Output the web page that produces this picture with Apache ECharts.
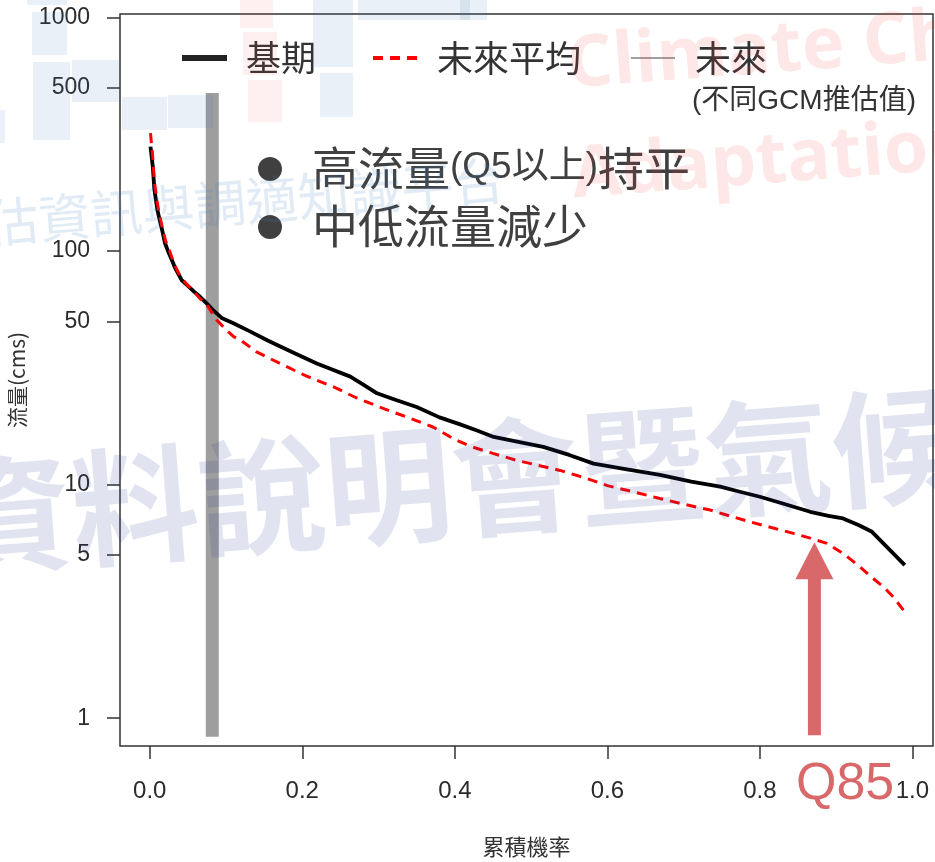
<!DOCTYPE html>
<html><head><meta charset="utf-8">
<script src="https://cdn.jsdelivr.net/npm/echarts@6/dist/echarts.min.js"></script>
<style>html,body{margin:0;padding:0;background:#fff}#c{width:935px;height:862px}</style>
</head><body><div id="c"></div>
<script>
// ---- data ----
const baseX = [0.001,0.004,0.006,0.010,0.013,0.017,0.020,0.025,0.029,0.033,0.036,0.042,0.049,0.058,0.066,0.075,0.083,0.095,0.109,0.130,0.154,0.167,0.190,0.219,0.240,0.263,0.280,0.298,0.320,0.350,0.380,0.407,0.430,0.451,0.480,0.516,0.550,0.582,0.620,0.669,0.710,0.748,0.775,0.800,0.830,0.866,0.890,0.909,0.930,0.947,0.990];
const baseY = [280,230,185,150,136,120,108,98,91.5,85,81.5,75,71.5,67,63.7,59.5,55.9,51.5,49.2,45.5,41.5,39.6,36.5,33.0,31.0,29.0,26.8,24.6,23.2,21.5,19.4,18.1,17.0,16.0,15.3,14.5,13.4,12.3,11.7,11.0,10.3,9.8,9.3,8.87,8.3,7.65,7.35,7.16,6.7,6.28,4.52];
const futX = [0.001,0.004,0.006,0.010,0.013,0.017,0.021,0.026,0.030,0.035,0.040,0.050,0.058,0.066,0.075,0.088,0.100,0.110,0.119,0.140,0.175,0.205,0.241,0.270,0.306,0.340,0.372,0.400,0.420,0.450,0.481,0.538,0.570,0.600,0.635,0.669,0.700,0.735,0.760,0.787,0.815,0.844,0.866,0.888,0.910,0.931,0.945,0.962,0.975,0.990];
const futY = [320,250,200,160,142,124,110,100,92,84,78,71,67,62.5,58.7,50.6,46,43.0,41.6,37,32.5,29.2,26.2,23.6,21.2,19.3,17.6,15.6,14.6,13.6,12.7,11.5,10.7,9.9,9.3,8.72,8.25,7.78,7.35,6.93,6.55,6.18,5.9,5.60,5.05,4.45,4.05,3.65,3.3,2.85];
const xTicks = [0, 0.2, 0.4, 0.6, 0.8, 1.0];
const yTicks = [1, 5, 10, 50, 100, 500, 1000];
const q5BarX = [0.082, 0.082];
const q5BarY = [475, 0.833];
const q85Arrow = [0.8715, 5.67, 0.846]; // x, tip value, tail value
const seriesNames = ['基期', '未來平均', '未來'];
const legendSub = '(不同GCM推估值)';
const notes = ['高流量', '(Q5以上)', '持平', '中低流量減少'];
const q85Label = 'Q85';
const xTitle = '累積機率';
const yTitle = '流量(cms)';

const zip = (a, b) => a.map((v, i) => [v, b[i]]);
const FONT = '"Liberation Sans","Noto Sans CJK TC",sans-serif';
const CJK = '"Noto Sans CJK TC","Liberation Sans",sans-serif';

const chart = echarts.init(document.getElementById('c'), null, {renderer: 'canvas'});

const wm = [];
// watermark blocks (logo)
const blueBlocks = [[32,12,35,43],[33,62,37,78],[72,60,48,42],[122,97,45,33],[168,95,45,33],[0,110,5,33],[27,0,40,5],[313,0,40,67],[320,73,33,44],[358,0,112,20],[460,0,27,20]];
const pinkBlocks = [[240,0,33,28],[243,32,34,43],[248,80,34,42]];
blueBlocks.forEach(b => wm.push({type:'rect', silent:true, z:100, shape:{x:b[0],y:b[1],width:b[2],height:b[3]}, style:{fill:'rgba(60,120,180,0.11)'}}));
pinkBlocks.forEach(b => wm.push({type:'rect', silent:true, z:100, shape:{x:b[0],y:b[1],width:b[2],height:b[3]}, style:{fill:'rgba(240,60,60,0.08)'}}));
wm.push({type:'text', silent:true, z:100, x:-65, y:228, rotation:0.085,
  style:{text:'推估資訊與調適知識平台', x:0, y:0, fontSize:52, fontFamily:CJK, fill:'rgba(70,130,190,0.16)', align:'left', verticalAlign:'middle'}});
wm.push({type:'text', silent:true, z:100, x:570, y:103, rotation:0.075,
  style:{text:'Climate Change', x:0, y:0, fontSize:72, fontWeight:'bold', fontFamily:'"Open Sans",sans-serif', fill:'rgba(240,60,60,0.12)', align:'left', verticalAlign:'bottom'}});
wm.push({type:'text', silent:true, z:100, x:575, y:213, rotation:0.075,
  style:{text:'Adaptation', x:0, y:0, fontSize:72, fontWeight:'bold', fontFamily:'"Open Sans",sans-serif', fill:'rgba(240,60,60,0.12)', align:'left', verticalAlign:'bottom'}});
wm.push({type:'text', silent:true, z:100, x:-55, y:520, rotation:0.0766,
  style:{text:'資料說明會暨氣候變遷', x:0, y:0, fontSize:127, fontWeight:'bold', fontFamily:CJK, fill:'rgba(44,66,150,0.14)', align:'left', verticalAlign:'middle'}});

const legendG = [
  {type:'line', z:50, shape:{x1:182,y1:58,x2:227,y2:58}, style:{stroke:'#222',lineWidth:6}},
  {type:'text', z:50, x:246, y:58, style:{text:seriesNames[0], fontSize:35, fontFamily:CJK, fill:'#333', align:'left', verticalAlign:'middle'}},
  {type:'line', z:50, shape:{x1:373,y1:58,x2:418,y2:58}, style:{stroke:'#ff0000',lineWidth:4,lineDash:[10,7]}},
  {type:'text', z:50, x:437, y:58, style:{text:seriesNames[1], fontSize:36, fontFamily:CJK, fill:'#333', align:'left', verticalAlign:'middle'}},
  {type:'line', z:50, shape:{x1:631,y1:58,x2:675,y2:58}, style:{stroke:'#a0a0a0',lineWidth:2}},
  {type:'text', z:50, x:695, y:58, style:{text:seriesNames[2], fontSize:36, fontFamily:CJK, fill:'#333', align:'left', verticalAlign:'middle'}},
  {type:'text', z:50, x:692, y:101, style:{text:legendSub, fontSize:28, fontFamily:FONT, fill:'#333', align:'left', verticalAlign:'middle'}},
  {type:'circle', z:50, shape:{cx:270, cy:169, r:12}, style:{fill:'#404040'}},
  {type:'circle', z:50, shape:{cx:270, cy:227, r:12}, style:{fill:'#404040'}},
  {type:'text', z:50, x:312, y:168, style:{text:'{a|'+notes[0]+'}{b|'+notes[1]+'}{a|'+notes[2]+'}', fill:'#404040', align:'left', verticalAlign:'middle',
     rich:{a:{fontSize:46, fontFamily:CJK, fill:'#404040'}, b:{fontSize:37, fontFamily:FONT, fill:'#404040'}}}},
  {type:'text', z:50, x:312, y:226, style:{text:notes[3], fontSize:46, fontFamily:CJK, fill:'#404040', align:'left', verticalAlign:'middle'}},
  {type:'text', z:50, x:796, y:785, style:{text:q85Label, fontSize:52, fontFamily:'"Liberation Sans",sans-serif', fill:'#d9686a', align:'left', verticalAlign:'middle'}}
];

const option = {
  animation: false,
  backgroundColor: '#fff',
  grid: {left:120, right:2, top:14, bottom:116, show:true, borderColor:'#333', borderWidth:1.5, backgroundColor:'transparent', containLabel:false, outerBoundsMode:'none'},
  xAxis: {
    type:'value', min:-0.039, max:1.027,
    name:xTitle, nameLocation:'middle', nameGap:90,
    nameTextStyle:{fontSize:22, fontFamily:CJK, color:'#333'},
    axisLine:{show:false, onZero:false}, splitLine:{show:false},
    axisTick:{show:true, customValues:xTicks, length:13, lineStyle:{color:'#333', width:1.5}},
    axisLabel:{customValues:xTicks, margin:33, fontSize:24, fontFamily:FONT, color:'#2b2b2b', formatter:v => Number(v).toFixed(1)}
  },
  yAxis: {
    type:'log', logBase:10, min:0.76, max:1035,
    name:yTitle, nameLocation:'middle', nameGap:86, nameRotate:90,
    nameTextStyle:{fontSize:21, fontFamily:CJK, color:'#333'},
    axisLine:{show:false, onZero:false}, splitLine:{show:false}, minorTick:{show:false},
    axisTick:{show:true, customValues:yTicks, length:13, lineStyle:{color:'#333', width:1.5}},
    axisLabel:{customValues:yTicks, margin:30, fontSize:23, fontFamily:FONT, color:'#2b2b2b', formatter:v => String(Math.round(v))}
  },
  graphic: {elements: legendG.concat(wm)},
  series: [
    {name:'Q5', type:'line', data:zip(q5BarX, q5BarY), symbol:'none', z:1, silent:true,
     lineStyle:{color:'#9e9e9e', width:13, cap:'butt'}},
    {name:seriesNames[0], type:'line', data:zip(baseX, baseY), symbol:'none', z:3,
     lineStyle:{color:'#000', width:3.8, join:'round'}},
    {name:seriesNames[1], type:'line', data:zip(futX, futY), symbol:'none', z:4,
     lineStyle:{color:'#ff0000', width:3, type:[10,7]}},
    {name:'Q85', type:'custom', z:5, silent:true, data:[q85Arrow], encode:{x:0, y:[1,2]},
     renderItem: function(params, api) {
       const tip = api.coord([api.value(0), api.value(1)]);
       const tail = api.coord([api.value(0), api.value(2)]);
       const hw = 19, sw = 6.5, hl = 37;
       return {type:'polygon', shape:{points:[
         [tip[0], tip[1]], [tip[0]+hw, tip[1]+hl], [tip[0]+sw, tip[1]+hl], [tip[0]+sw, tail[1]],
         [tip[0]-sw, tail[1]], [tip[0]-sw, tip[1]+hl], [tip[0]-hw, tip[1]+hl]]},
         style:{fill:'#d9686a'}};
     }}
  ]
};
chart.setOption(option);
</script></body></html>
